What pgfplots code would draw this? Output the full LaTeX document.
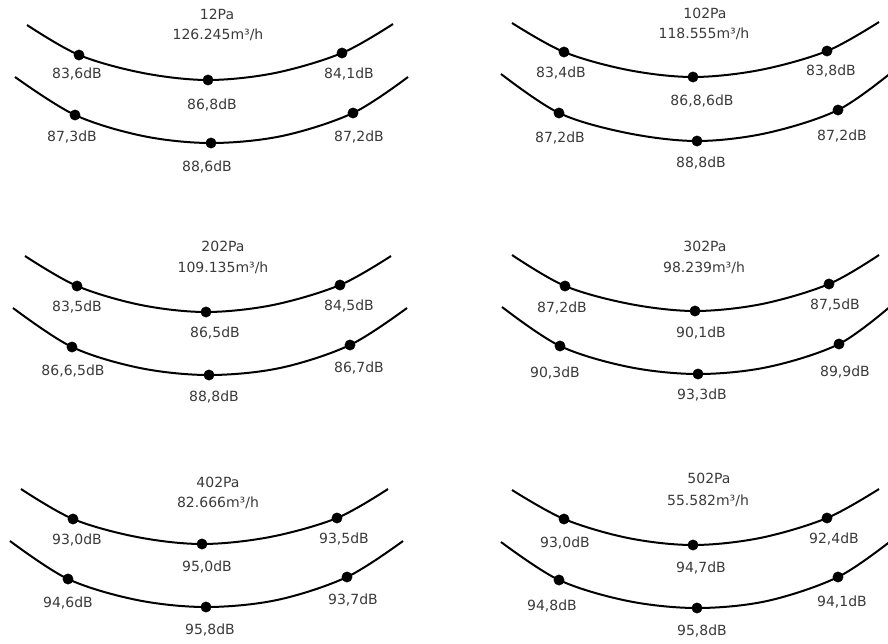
\documentclass[border=0pt]{standalone}
\usepackage{pgfplots}
\pgfplotsset{compat=1.18}
\usepackage{fontspec}
\setmainfont{DejaVu Sans}
\definecolor{txt}{HTML}{3A3A3A}
\pgfplotsset{
  arc/.style={black, line width=2pt, smooth, tension=0.55, no marks},
  dot/.style={only marks, mark=*, mark size=5.2pt, black},
}
\tikzset{lab/.style={font=\fontsize{14}{16}\selectfont, text=txt, inner sep=0pt}}
\begin{document}
\begin{tikzpicture}
\begin{axis}[
  scale only axis, width=888pt, height=643pt,
  xmin=0, xmax=888, ymin=0, ymax=643, y dir=reverse,
  axis line style={draw=none}, xtick=\empty, ytick=\empty,
  clip=true,
]
% ---------- Panel 1: 12Pa ----------
\addplot[arc] coordinates {(27,25) (79,55) (143,73) (208,80) (275,73) (342,53) (393,24)};
\addplot[arc] coordinates {(15,77) (75,115) (143,136) (211,143) (282,136) (353,113) (408,77)};
\addplot[dot] coordinates {(79,55) (208,80) (342,53) (75,115) (211,143) (353,113)};
% ---------- Panel 2: 102Pa ----------
\addplot[arc] coordinates {(512,23) (564,52) (628,70) (693,77) (760,70) (827,51) (879,22)};
\addplot[arc] coordinates {(501,74) (559,113) (627,133) (697,141) (767,133) (838,110) (892,72)};
\addplot[dot] coordinates {(564,52) (693,77) (827,51) (559,113) (697,141) (838,110)};
% ---------- Panel 3: 202Pa ----------
\addplot[arc] coordinates {(25,256) (77,286) (141,305) (206,312) (273,305) (340,285) (391,256)};
\addplot[arc] coordinates {(13,308) (72,347) (140,368) (209,375) (280,368) (350,345) (407,308)};
\addplot[dot] coordinates {(77,286) (206,312) (340,285) (72,347) (209,375) (350,345)};
% ---------- Panel 4: 302Pa ----------
\addplot[arc] coordinates {(512,255) (565,286) (630,304) (695,311) (762,304) (829,284) (879,255)};
\addplot[arc] coordinates {(502,307) (560,346) (629,367) (698,374) (768,367) (839,344) (892,305)};
\addplot[dot] coordinates {(565,286) (695,311) (829,284) (560,346) (698,374) (839,344)};
% ---------- Panel 5: 402Pa ----------
\addplot[arc] coordinates {(21,489) (73,519) (137,537) (202,544) (270,537) (337,518) (388,489)};
\addplot[arc] coordinates {(10,541) (68,579) (137,600) (206,607) (277,600) (347,577) (403,541)};
\addplot[dot] coordinates {(73,519) (202,544) (337,518) (68,579) (206,607) (347,577)};
% ---------- Panel 6: 502Pa ----------
\addplot[arc] coordinates {(512,490) (564,519) (628,538) (693,545) (760,538) (827,518) (879,489)};
\addplot[arc] coordinates {(501,542) (559,580) (628,601) (697,608) (767,601) (838,577) (892,540)};
\addplot[dot] coordinates {(564,519) (693,545) (827,518) (559,580) (697,608) (838,577)};

% ---------- Labels ----------
% Panel 1
\node[lab] at (axis cs:217,14) {12Pa};
\node[lab] at (axis cs:218,35) {126.245m³/h};
\node[lab] at (axis cs:77,74) {83,6dB};
\node[lab] at (axis cs:212,105) {86,8dB};
\node[lab] at (axis cs:349,74) {84,1dB};
\node[lab] at (axis cs:72,137) {87,3dB};
\node[lab] at (axis cs:207,167) {88,6dB};
\node[lab] at (axis cs:359,137) {87,2dB};
% Panel 2
\node[lab] at (axis cs:705,13) {102Pa};
\node[lab] at (axis cs:704,34) {118.555m³/h};
\node[lab] at (axis cs:561,73) {83,4dB};
\node[lab] at (axis cs:702,101) {86,8,6dB};
\node[lab] at (axis cs:831,71) {83,8dB};
\node[lab] at (axis cs:560,138) {87,2dB};
\node[lab] at (axis cs:701,163) {88,8dB};
\node[lab] at (axis cs:842,136) {87,2dB};
% Panel 3
\node[lab] at (axis cs:223,246) {202Pa};
\node[lab] at (axis cs:223,268) {109.135m³/h};
\node[lab] at (axis cs:77,307) {83,5dB};
\node[lab] at (axis cs:215,333) {86,5dB};
\node[lab] at (axis cs:349,306) {84,5dB};
\node[lab] at (axis cs:73,371) {86,6,5dB};
\node[lab] at (axis cs:214,397) {88,8dB};
\node[lab] at (axis cs:359,368) {86,7dB};
% Panel 4
\node[lab] at (axis cs:705,246) {302Pa};
\node[lab] at (axis cs:704,268) {98.239m³/h};
\node[lab] at (axis cs:562,308) {87,2dB};
\node[lab] at (axis cs:701,333) {90,1dB};
\node[lab] at (axis cs:835,305) {87,5dB};
\node[lab] at (axis cs:555,373) {90,3dB};
\node[lab] at (axis cs:702,395) {93,3dB};
\node[lab] at (axis cs:845,372) {89,9dB};
% Panel 5
\node[lab] at (axis cs:218,482) {402Pa};
\node[lab] at (axis cs:218,503) {82.666m³/h};
\node[lab] at (axis cs:77,540) {93,0dB};
\node[lab] at (axis cs:207,567) {95,0dB};
\node[lab] at (axis cs:344,539) {93,5dB};
\node[lab] at (axis cs:68,603) {94,6dB};
\node[lab] at (axis cs:210,630) {95,8dB};
\node[lab] at (axis cs:353,600) {93,7dB};
% Panel 6
\node[lab] at (axis cs:709,478) {502Pa};
\node[lab] at (axis cs:708,501) {55.582m³/h};
\node[lab] at (axis cs:565,543) {93,0dB};
\node[lab] at (axis cs:701,568) {94,7dB};
\node[lab] at (axis cs:834,539) {92,4dB};
\node[lab] at (axis cs:552,606) {94,8dB};
\node[lab] at (axis cs:702,631) {95,8dB};
\node[lab] at (axis cs:842,602) {94,1dB};
\end{axis}
\end{tikzpicture}
\end{document}
